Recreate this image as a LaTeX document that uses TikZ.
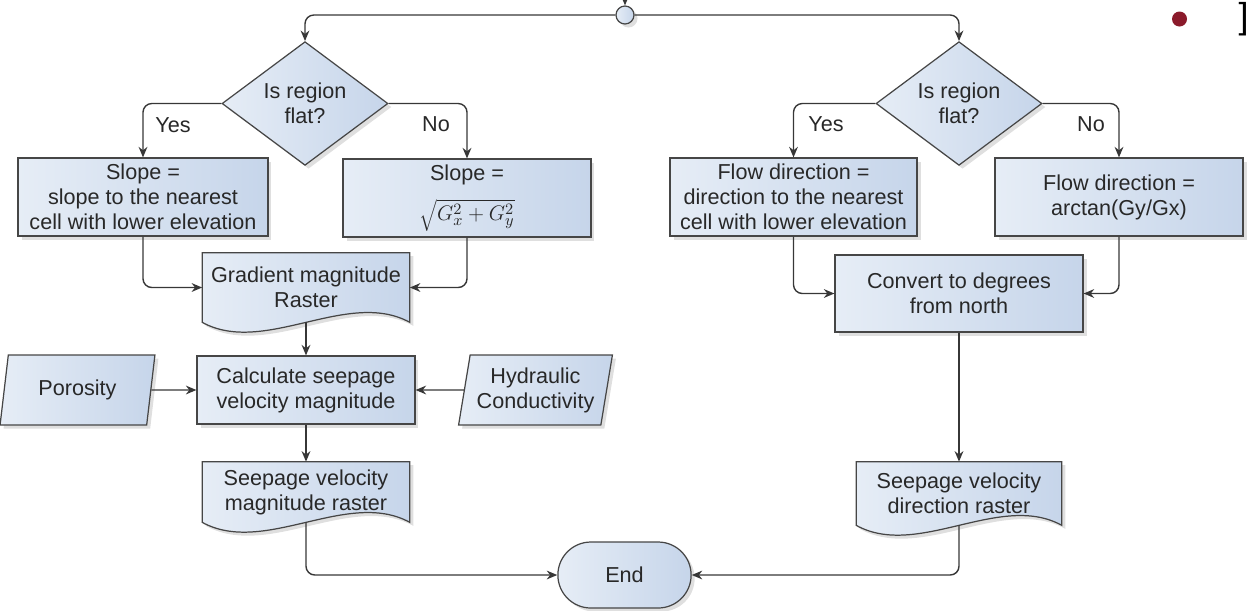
\documentclass[tikz,border=0pt]{standalone}
\usepackage{fontspec}
\setmainfont{Liberation Sans}
\usetikzlibrary{arrows.meta, positioning, backgrounds, shapes, shadows, calc}

\definecolor{boxlight}{RGB}{230,237,246}
\definecolor{boxdark}{RGB}{198,213,234}
\definecolor{rimgray}{RGB}{70,70,70}
\definecolor{linegray}{RGB}{55,55,55}
\definecolor{inkgray}{RGB}{40,40,40}
\definecolor{bulletred}{RGB}{139,26,43}

% document symbol with a wavy bottom, drawn behind a node
\newcommand{\wavedoc}[1]{%
  \begin{scope}[on background layer]
    \draw[docbody] (#1.north west) -- (#1.north east) -- (#1.south east)
      .. controls ($(#1.south east)!0.3!(#1.south west)+(0,-34)$) and ($(#1.south west)!0.3!(#1.south east)+(0,34)$) .. (#1.south west) -- cycle;
  \end{scope}}

\begin{document}
\begin{tikzpicture}[
    x=0.02cm, y=-0.02cm,
    font=\fontsize{12.3}{14.2}\selectfont,
    base/.style={draw=rimgray, line width=0.7pt, left color=boxlight, right color=boxdark,
        drop shadow={shadow xshift=2pt, shadow yshift=-2pt, opacity=0.25},
        text=inkgray, align=center},
    box/.style={base, rectangle, inner sep=0pt},
    decision/.style={base, diamond, inner sep=0pt, minimum width=3.32cm, minimum height=2.14cm},
    inputbox/.style={base, trapezium, trapezium left angle=77, trapezium right angle=103,
        trapezium stretches=true, minimum width=3.1cm, minimum height=1.4cm, inner sep=0pt},
    docnode/.style={rectangle, inner sep=0pt, text=inkgray, align=center},
    docbody/.style={draw=rimgray, line width=0.7pt, left color=boxlight, right color=boxdark,
        drop shadow={shadow xshift=2pt, shadow yshift=-2pt, opacity=0.25}},
    terminal/.style={base, rounded rectangle, minimum width=2.9cm, minimum height=1.32cm},
    edge/.style={draw=linegray, line width=0.8pt, -{Stealth[length=6pt, width=5pt]}, rounded corners=5pt},
    tag/.style={text=inkgray, inner sep=1pt}
]
\useasboundingbox (0,0) rectangle (1247,610);

% start point
\coordinate (feed) at (625,-12);
\node[base, circle, minimum size=0.36cm, inner sep=0pt] (start) at (625,15) {};

% decisions
\node[decision] (flatL) at (305,103.5) {Is region\\flat?};
\node[decision] (flatR) at (959,103.5) {Is region\\flat?};

\node[tag] (yesL) at (173,125) {Yes};
\node[tag] (noL) at (436,124) {No};
\node[tag] (yesR) at (826,124) {Yes};
\node[tag] (noR) at (1091,124) {No};

% slope branch
\node[box, minimum width=5cm, minimum height=1.56cm] (slopeNear) at (143,197) {Slope =\\slope to the nearest\\cell with lower elevation};
\node[box, minimum width=4.96cm, minimum height=1.56cm] (slopeGrad) at (467,198) {Slope =\\[7pt]$\sqrt{G_x^2+G_y^2}$};
\node[docnode, minimum width=4.14cm, minimum height=1.38cm] (gradRaster) at (306,287.5) {Gradient magnitude\\Raster};
\wavedoc{gradRaster}

\node[box, minimum width=4.36cm, minimum height=1.36cm] (calcVel) at (306,390) {Calculate seepage\\velocity magnitude};
\node[inputbox] (poro) at (77.5,390) {Porosity};
\node[inputbox] (hydro) at (535.5,390) {Hydraulic\\Conductivity};

\node[docnode, minimum width=4.14cm, minimum height=1.2cm] (magRaster) at (306,492) {Seepage velocity\\magnitude raster};
\wavedoc{magRaster}

% direction branch
\node[box, minimum width=4.94cm, minimum height=1.56cm] (dirNear) at (793.5,197) {Flow direction =\\direction to the nearest\\cell with lower elevation};
\node[box, minimum width=4.96cm, minimum height=1.56cm] (dirGrad) at (1119,197) {Flow direction =\\arctan(Gy/Gx)};
\node[box, minimum width=4.96cm, minimum height=1.54cm] (toDeg) at (959,293.5) {Convert to degrees\\from north};

\node[docnode, minimum width=4.1cm, minimum height=1.26cm] (dirRaster) at (959,493.5) {Seepage velocity\\direction raster};
\wavedoc{dirRaster}

% end
\node[terminal] (finish) at (624.5,575) {End};

% page marks
\node[circle, fill=bulletred, inner sep=0pt, minimum size=0.3cm] (bullet) at (1179.5,19) {};
\node[text=black, font=\fontsize{20.5}{20.5}\selectfont, anchor=base east, inner sep=0pt] (bracket) at (1249,28) {]};

% connectors
\draw[edge] (feed) -- (start);
\draw[edge] (start.west) -| (flatL.north);
\draw[edge] (start.east) -| (flatR.north);

\draw[edge] (flatL.west) -| (slopeNear.north);
\draw[edge] (flatL.east) -| (slopeGrad.north);
\draw[edge] (slopeNear.south) |- (gradRaster.west);
\draw[edge] (slopeGrad.south) |- (gradRaster.east);
\draw[edge] (gradRaster.south) -- (calcVel.north);
\draw[edge] (poro) -- (calcVel);
\draw[edge] (hydro) -- (calcVel);
\draw[edge] (calcVel.south) -- (magRaster.north);
\draw[edge] (magRaster.south) |- (finish.west);

\draw[edge] (flatR.west) -| (dirNear.north);
\draw[edge] (flatR.east) -| (dirGrad.north);
\draw[edge] (dirNear.south) |- (toDeg.west);
\draw[edge] (dirGrad.south) |- (toDeg.east);
\draw[edge] (toDeg.south) -- (dirRaster.north);
\draw[edge] (dirRaster.south) |- (finish.east);

\end{tikzpicture}
\end{document}
